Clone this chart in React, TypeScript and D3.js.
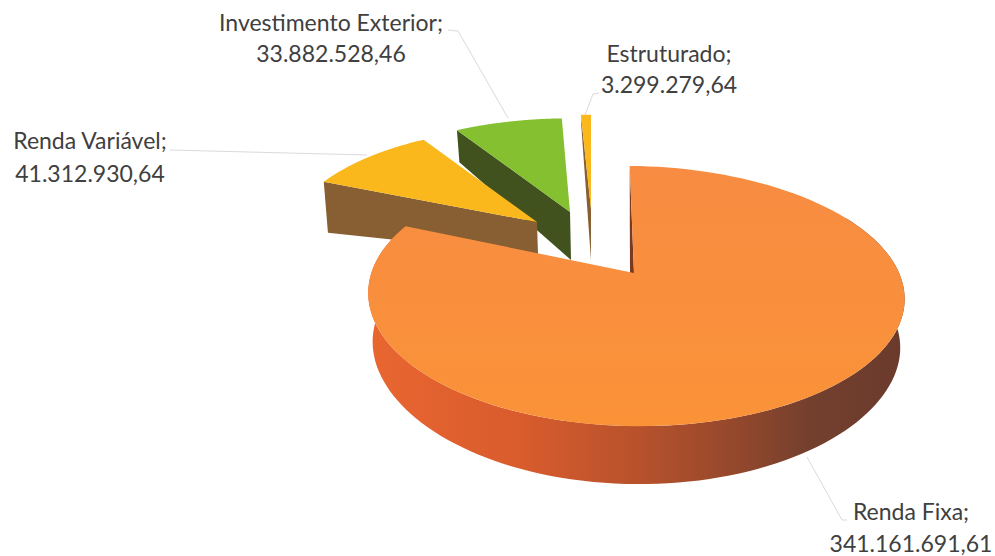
import React, { useRef, useEffect } from 'react';
import * as d3 from 'd3';

const categories = ['Renda Fixa', 'Renda Variável', 'Investimento Exterior', 'Estruturado'];
const values = [341161691.61, 41312930.64, 33882528.46, 3299279.64];

const width = 995;
const height = 556;

// perspective of the disc
const radiusX = 264;
const radiusY = 126;
const tilt = 0.177;
const startAngle = -0.019;

// where each wedge sits once exploded
const wedges = [
  { apexX: 634, apexY: 273, scaleX: 1, scaleY: 1, turn: 0, widen: 2.5, lean: 3.5, apexDepth: 0, apexShift: -4, rimDepth: 58, sideLoss: 10, face: 'url(#fixaFace)', wall: '#7a3a22', rim: true },
  { apexX: 537, apexY: 222, scaleX: 0.935, scaleY: 0.885, turn: 0.019, widen: 0, lean: 0, apexDepth: 33, apexShift: 1, rimDepth: 51, sideLoss: 0, face: '#fbb81c', wall: '#875f33', rim: false },
  { apexX: 570, apexY: 212, scaleX: 0.95, scaleY: 0.875, turn: 0.03, widen: 0, lean: 0, apexDepth: 48, apexShift: 1, rimDepth: 32, sideLoss: 0, face: '#84c02f', wall: '#41521f', rim: false },
  { apexX: 591, apexY: 209, scaleX: 0.91, scaleY: 0.88, turn: 0.019, widen: 0, lean: 0, apexDepth: 51, apexShift: 0, rimDepth: 10, sideLoss: 0, face: '#fbb81c', wall: '#875f33', rim: false },
];

const labels = [
  { x: 911, y: 520, y2: 552, leader: [[847, 520], [842, 520], [807, 457]] },
  { x: 90, y: 149, y2: 182, leader: [[170, 150], [367, 155]] },
  { x: 331, y: 31, y2: 62, leader: [[448, 30], [458, 31], [508, 118]] },
  { x: 669, y: 62, y2: 93, leader: [[599, 93], [593, 94], [585, 115]] },
];

const brNumber = d3.formatLocale({
  decimal: ',',
  thousands: '.',
  grouping: [3],
  currency: ['R$', ''],
}).format(',.2f');

function App() {
  const ref = useRef<SVGSVGElement>(null);

  useEffect(() => {
    const svg = d3.select(ref.current);
    svg.selectAll('*').remove();

    const defs = svg.append('defs');
    const rimGrad = defs.append('linearGradient')
      .attr('id', 'fixaRim')
      .attr('gradientUnits', 'userSpaceOnUse')
      .attr('x1', 368).attr('x2', 905).attr('y1', 0).attr('y2', 0);
    [[0, '#e96630'], [0.28, '#d95c2d'], [0.5, '#b8522c'], [0.68, '#95482c'], [0.82, '#74402e'], [1, '#6b3a2c']].forEach(([o, c]) => {
      rimGrad.append('stop').attr('offset', o).attr('stop-color', c);
    });
    const faceGrad = defs.append('linearGradient')
      .attr('id', 'fixaFace')
      .attr('gradientUnits', 'userSpaceOnUse')
      .attr('x1', 0).attr('x2', 0).attr('y1', 165).attr('y2', 425);
    [[0, '#f78c42'], [1, '#fa9238']].forEach(([o, c]) => {
      faceGrad.append('stop').attr('offset', o).attr('stop-color', c);
    });

    const pie = d3.pie<number>()
      .sort(null)
      .startAngle(startAngle)
      .endAngle(startAngle + 2 * Math.PI);
    const arcs = pie(values);

    const line = d3.line();

    const top = (w, a, r) => {
      const u = r * Math.sin(a + w.turn);
      const v = -r * Math.cos(a + w.turn);
      const d = 1 - tilt * v;
      return [
        w.apexX + (w.scaleX * radiusX * u) / d + w.widen * u * u / Math.max(r, 0.001),
        w.apexY + (w.scaleY * radiusY * v) / d + w.lean * u,
      ];
    };
    const bottom = (w, a, r) => {
      const [x, y] = top(w, a, r);
      const s = Math.sin(a);
      const depth = w.apexDepth + (w.rimDepth - w.sideLoss * s * s - w.apexDepth) * r;
      const shift = w.apexShift * (1 - r) - 4.5 * r * s;
      return [x + shift, y + depth];
    };
    const sweep = (a0, a1) => d3.range(0, 121).map((i) => a0 + ((a1 - a0) * i) / 120);

    // back to front: the big wedge covers the others
    const order = [3, 2, 1, 0];
    order.forEach((i) => {
      const w = wedges[i];
      const arc = arcs[i];
      const g = svg.append('g');

      if (w.rim) {
        const angles = sweep(Math.PI / 3, arc.endAngle);
        g.append('path')
          .attr('d', line([
            ...angles.map((a) => top(w, a, 1)),
            ...angles.slice().reverse().map((a) => bottom(w, a, 1)),
          ]) + 'Z')
          .attr('fill', 'url(#fixaRim)');
      }

      g.append('path')
        .attr('d', line([
          top(w, arc.startAngle, 1),
          top(w, arc.startAngle, 0),
          bottom(w, arc.startAngle, 0),
          bottom(w, arc.startAngle, 1),
        ]) + 'Z')
        .attr('fill', w.wall);

      g.append('path')
        .attr('d', line([
          top(w, arc.startAngle, 0),
          ...sweep(arc.startAngle, arc.endAngle).map((a) => top(w, a, 1)),
        ]) + 'Z')
        .attr('fill', w.face);
    });

    // leader lines and labels
    labels.forEach((l, i) => {
      svg.append('path')
        .attr('d', line(l.leader))
        .attr('fill', 'none')
        .attr('stroke', '#d8dade')
        .attr('stroke-width', 1);

      const text = svg.append('text')
        .attr('text-anchor', 'middle')
        .attr('font-family', 'Lato, sans-serif')
        .attr('font-size', 23)
        .attr('fill', '#404040');
      text.append('tspan')
        .attr('x', l.x)
        .attr('y', l.y)
        .text(categories[i] + ';');
      text.append('tspan')
        .attr('x', l.x)
        .attr('y', l.y2)
        .text(brNumber(values[i]));
    });
  }, []);

  return (
    <svg
      ref={ref}
      width={width}
      height={height}
      style={{ position: 'fixed', left: 0, top: 0, background: '#fff' }}
    />
  );
}

export default App;
